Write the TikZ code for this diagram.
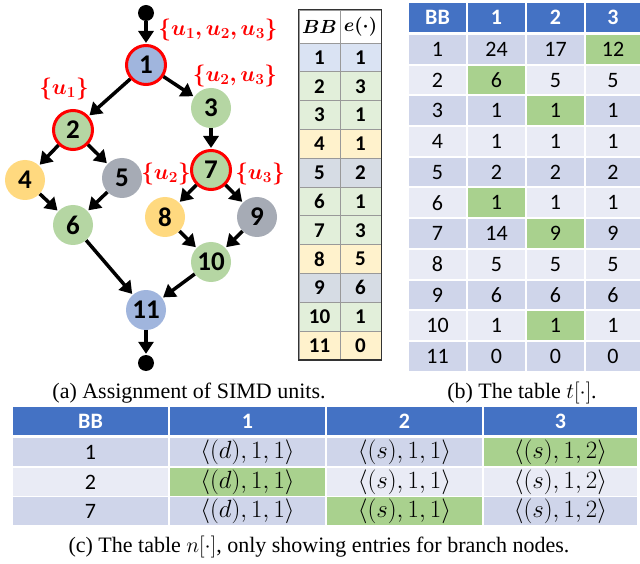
\RequirePackage{fix-cm}
\documentclass[tikz,border=0pt]{standalone}
\usepackage{amsmath,amssymb,bm}
\usepackage{fontspec}
\setmainfont{Carlito}
\newfontfamily\capfont{Liberation Serif}
\usetikzlibrary{arrows.meta}

\definecolor{hdr}{HTML}{4472C4}
\definecolor{rowa}{HTML}{CFD5EA}
\definecolor{rowb}{HTML}{E9EBF5}
\definecolor{best}{HTML}{A9D18E}
\definecolor{nblue}{HTML}{A0B5DD}
\definecolor{ngreen}{HTML}{B5D6A3}
\definecolor{nyellow}{HTML}{FFD97F}
\definecolor{ngray}{HTML}{A6ABB5}
\definecolor{lblue}{HTML}{DAE3F3}
\definecolor{lgreen}{HTML}{E2EFDA}
\definecolor{lyellow}{HTML}{FFF2CC}
\definecolor{lgray}{HTML}{D6DCE4}

\tikzset{
  bb/.style={circle,minimum size=40pt,inner sep=0pt,font=\fontsize{27}{27}\selectfont\bfseries},
  branch/.style={bb,draw=red,line width=3pt,minimum size=39pt},
  flow/.style={line width=3.5pt,-{Triangle[length=12pt,width=15pt]},shorten >=1pt},
  unitset/.style={red,font=\fontsize{22}{22}\selectfont},
  dot/.style={circle,fill=black,minimum size=16pt,inner sep=0pt},
  ecell/.style={draw=gray!80,line width=0.8pt,minimum width=41pt,minimum height=28.8pt,inner sep=0pt,font=\fontsize{21}{21}\selectfont\bfseries},
  tcell/.style={minimum width=57pt,minimum height=28.7pt,inner sep=0pt,font=\fontsize{22}{22}\selectfont},
  ncell/.style={minimum width=155pt,minimum height=28pt,inner sep=0pt,font=\fontsize{22}{22}\selectfont},
  pair/.style={font=\fontsize{24.88}{25}\selectfont},
  subcap/.style={font=\capfont\fontsize{22}{24}\selectfont}
}

\begin{document}
\begin{tikzpicture}[x=1pt,y=-1pt]
  \useasboundingbox[fill=white] (0,0) rectangle (640,564);

  % CFG with SIMD unit sets
  \node[dot] (start) at (146,13) {};
  \node[branch,fill=nblue] (b1) at (146,65) {1};
  \node[branch,fill=ngreen] (b2) at (73,130) {2};
  \node[bb,fill=ngreen] (b3) at (211,108) {3};
  \node[bb,fill=nyellow] (b4) at (25,180) {4};
  \node[bb,fill=ngray] (b5) at (122,178) {5};
  \node[bb,fill=ngreen] (b6) at (73,225) {6};
  \node[branch,fill=ngreen] (b7) at (211,170) {7};
  \node[bb,fill=nyellow] (b8) at (165,217) {8};
  \node[bb,fill=ngray] (b9) at (257,217) {9};
  \node[bb,fill=ngreen] (b10) at (211,262) {10};
  \node[bb,fill=nblue] (b11) at (146,310) {11};
  \node[dot] (stop) at (146,363) {};

  \foreach \a/\b in {start/b1,b1/b2,b1/b3,b2/b4,b2/b5,b3/b7,b4/b6,b5/b6,
                     b7/b8,b7/b9,b8/b10,b9/b10,b6/b11,b10/b11,b11/stop}
    \draw[flow] (\a) -- (\b);

  \node[unitset] (u1) at (218,30) {$\bm{\{u_1,u_2,u_3\}}$};
  \node[unitset] (u3) at (235,76) {$\bm{\{u_2,u_3\}}$};
  \node[unitset] (u2) at (64,89) {$\bm{\{u_1\}}$};
  \node[unitset] (u7a) at (166,174) {$\bm{\{u_2\}}$};
  \node[unitset] (u7b) at (260,174) {$\bm{\{u_3\}}$};

  % table e
  \node[ecell,font=\fontsize{19}{19}\selectfont] (e-h-1) at (319.5,26.5) [minimum height=33pt] {$\bm{BB}$};
  \node[ecell,font=\fontsize{19}{19}\selectfont] (e-h-2) at (360.5,26.5) [minimum height=33pt] {$\bm{e(\cdot)}$};
  \foreach \r/\v/\c in {1/1/lblue,2/3/lgreen,3/1/lgreen,4/1/lyellow,5/2/lgray,6/1/lgreen,
                        7/3/lgreen,8/5/lyellow,9/6/lgray,10/1/lgreen,11/0/lyellow} {
    \node[ecell,fill=\c] (e-\r-1) at (319.5,{57.4+(\r-1)*28.8}) {\r};
    \node[ecell,fill=\c] (e-\r-2) at (360.5,{57.4+(\r-1)*28.8}) {\v};
  }
  \draw[line width=1.6pt,black!80] (e-h-1.north west) rectangle (e-11-2.south east);

  % table t
  \foreach \k/\x/\w/\t in {0/437.5/57/BB,1/496.5/57/1,2/555.5/57/2,3/613/54/3}
    \node[tcell,fill=hdr,text=white,font=\fontsize{22}{22}\selectfont\bfseries,
          minimum width=\w pt,minimum height=29pt] (t-h-\k) at (\x,17.5) {\t};
  \foreach \r/\rc/\a/\b/\c/\g in {1/rowa/24/17/12/3, 2/rowb/6/5/5/1, 3/rowa/1/1/1/2,
      4/rowb/1/1/1/0, 5/rowa/2/2/2/0, 6/rowb/1/1/1/1, 7/rowa/14/9/9/2,
      8/rowb/5/5/5/0, 9/rowa/6/6/6/0, 10/rowb/1/1/1/2, 11/rowa/0/0/0/0} {
    \node[tcell,fill=\rc] (t-\r-0) at (437.5,{49.35+(\r-1)*30.7}) {\r};
    \foreach \k/\x/\w/\v in {1/496.5/57/\a,2/555.5/57/\b,3/613/54/\c} {
      \ifnum\k=\g \def\cc{best}\else \def\cc{\rc}\fi
      \node[tcell,fill=\cc,minimum width=\w pt] (t-\r-\k) at (\x,{49.35+(\r-1)*30.7}) {\v};
    }
  }

  % table n
  \foreach \k/\x/\w/\t in {0/90.5/155/BB,1/247.5/155/1,2/404.5/155/2,3/560.5/153/3}
    \node[ncell,fill=hdr,text=white,font=\fontsize{22}{22}\selectfont\bfseries,
          minimum width=\w pt] (n-h-\k) at (\x,421) {\t};
  \foreach \r/\y/\rc/\g in {1/452/rowa/3, 2/482/rowb/1, 7/511/rowa/2} {
    \node[ncell,fill=\rc] (n-\r-0) at (90.5,\y) {\r};
    \foreach \k/\x/\w/\v in {1/247.5/155/{$\langle(d),1,1\rangle$},
                             2/404.5/155/{$\langle(s),1,1\rangle$},
                             3/560.5/153/{$\langle(s),1,2\rangle$}} {
      \ifnum\k=\g \def\cc{best}\else \def\cc{\rc}\fi
      \node[ncell,pair,fill=\cc,minimum width=\w pt] (n-\r-\k) at (\x,\y) {\v};
    }
  }

  % captions
  \node[subcap] (capa) at (189,393) {(a) Assignment of SIMD units.};
  \node[subcap] (capb) at (522,393) {(b) The table $t[\cdot]$.};
  \node[subcap] (capc) at (319,547) {(c) The table $n[\cdot]$, only showing entries for branch nodes.};
\end{tikzpicture}
\end{document}
